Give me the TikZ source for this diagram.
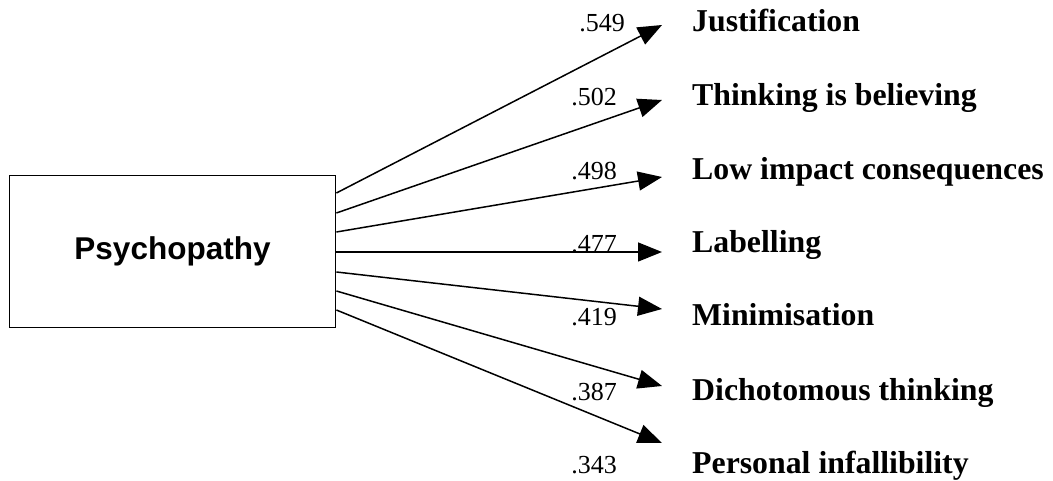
\documentclass[tikz,border=0pt]{standalone}
\usepackage{fontspec}
\setmainfont{Liberation Serif}
\setsansfont{Liberation Sans}
\usetikzlibrary{arrows.meta}
\tikzset{
  latent/.style={draw=black, line width=1.8pt, minimum width=326pt, minimum height=152pt,
                 inner sep=0pt, font=\sffamily\bfseries\fontsize{31.5}{36}\selectfont},
  item/.style={anchor=base west, inner sep=0pt, font=\bfseries\fontsize{31.8}{36}\selectfont},
  coef/.style={anchor=base east, inner sep=0pt, font=\fontsize{26}{30}\selectfont},
  load/.style={-{Triangle[length=24pt, width=19pt]}, line width=1.5pt},
}

\begin{document}
\begin{tikzpicture}[x=1pt, y=-1pt]
    \useasboundingbox (0,0) rectangle (1053,481);
    \node[latent] (psy) at (172.5,251.5) {Psychopathy};

    % item labels
    \node[item] (just) at (692,32)  {Justification};
    \node[item] (think) at (692,106) {Thinking is believing};
    \node[item] (low)  at (692,180) {Low impact consequences};
    \node[item] (lab)  at (692,253) {Labelling};
    \node[item] (mini) at (692,326) {Minimisation};
    \node[item] (dich) at (692,400) {Dichotomous thinking};
    \node[item] (pers) at (692,473) {Personal infallibility};

    % loadings
    \node[coef] (c1) at (625,32)  {.549};
    \node[coef] (c2) at (617,106) {.502};
    \node[coef] (c3) at (617,180) {.498};
    \node[coef] (c4) at (617,253) {.477};
    \node[coef] (c5) at (617,326) {.419};
    \node[coef] (c6) at (617,400) {.387};
    \node[coef] (c7) at (617,473) {.343};

    % start and tip points
    \coordinate (s1) at (psy.east |- 0,193);
    \coordinate (s2) at (psy.east |- 0,213);
    \coordinate (s3) at (psy.east |- 0,232);
    \coordinate (s4) at (psy.east |- 0,252);
    \coordinate (s5) at (psy.east |- 0,272);
    \coordinate (s6) at (psy.east |- 0,291);
    \coordinate (s7) at (psy.east |- 0,310);
    \coordinate (t1) at (662,25);
    \coordinate (t2) at (662,100);
    \coordinate (t3) at (662,177);
    \coordinate (t4) at (662,252);
    \coordinate (t5) at (662,309);
    \coordinate (t6) at (662,386);
    \coordinate (t7) at (662,443);

    \draw[load] (s1) -- (t1);
    \draw[load] (s2) -- (t2);
    \draw[load] (s3) -- (t3);
    \draw[load] (s4) -- (t4);
    \draw[load] (s5) -- (t5);
    \draw[load] (s6) -- (t6);
    \draw[load] (s7) -- (t7);
\end{tikzpicture}
\end{document}
